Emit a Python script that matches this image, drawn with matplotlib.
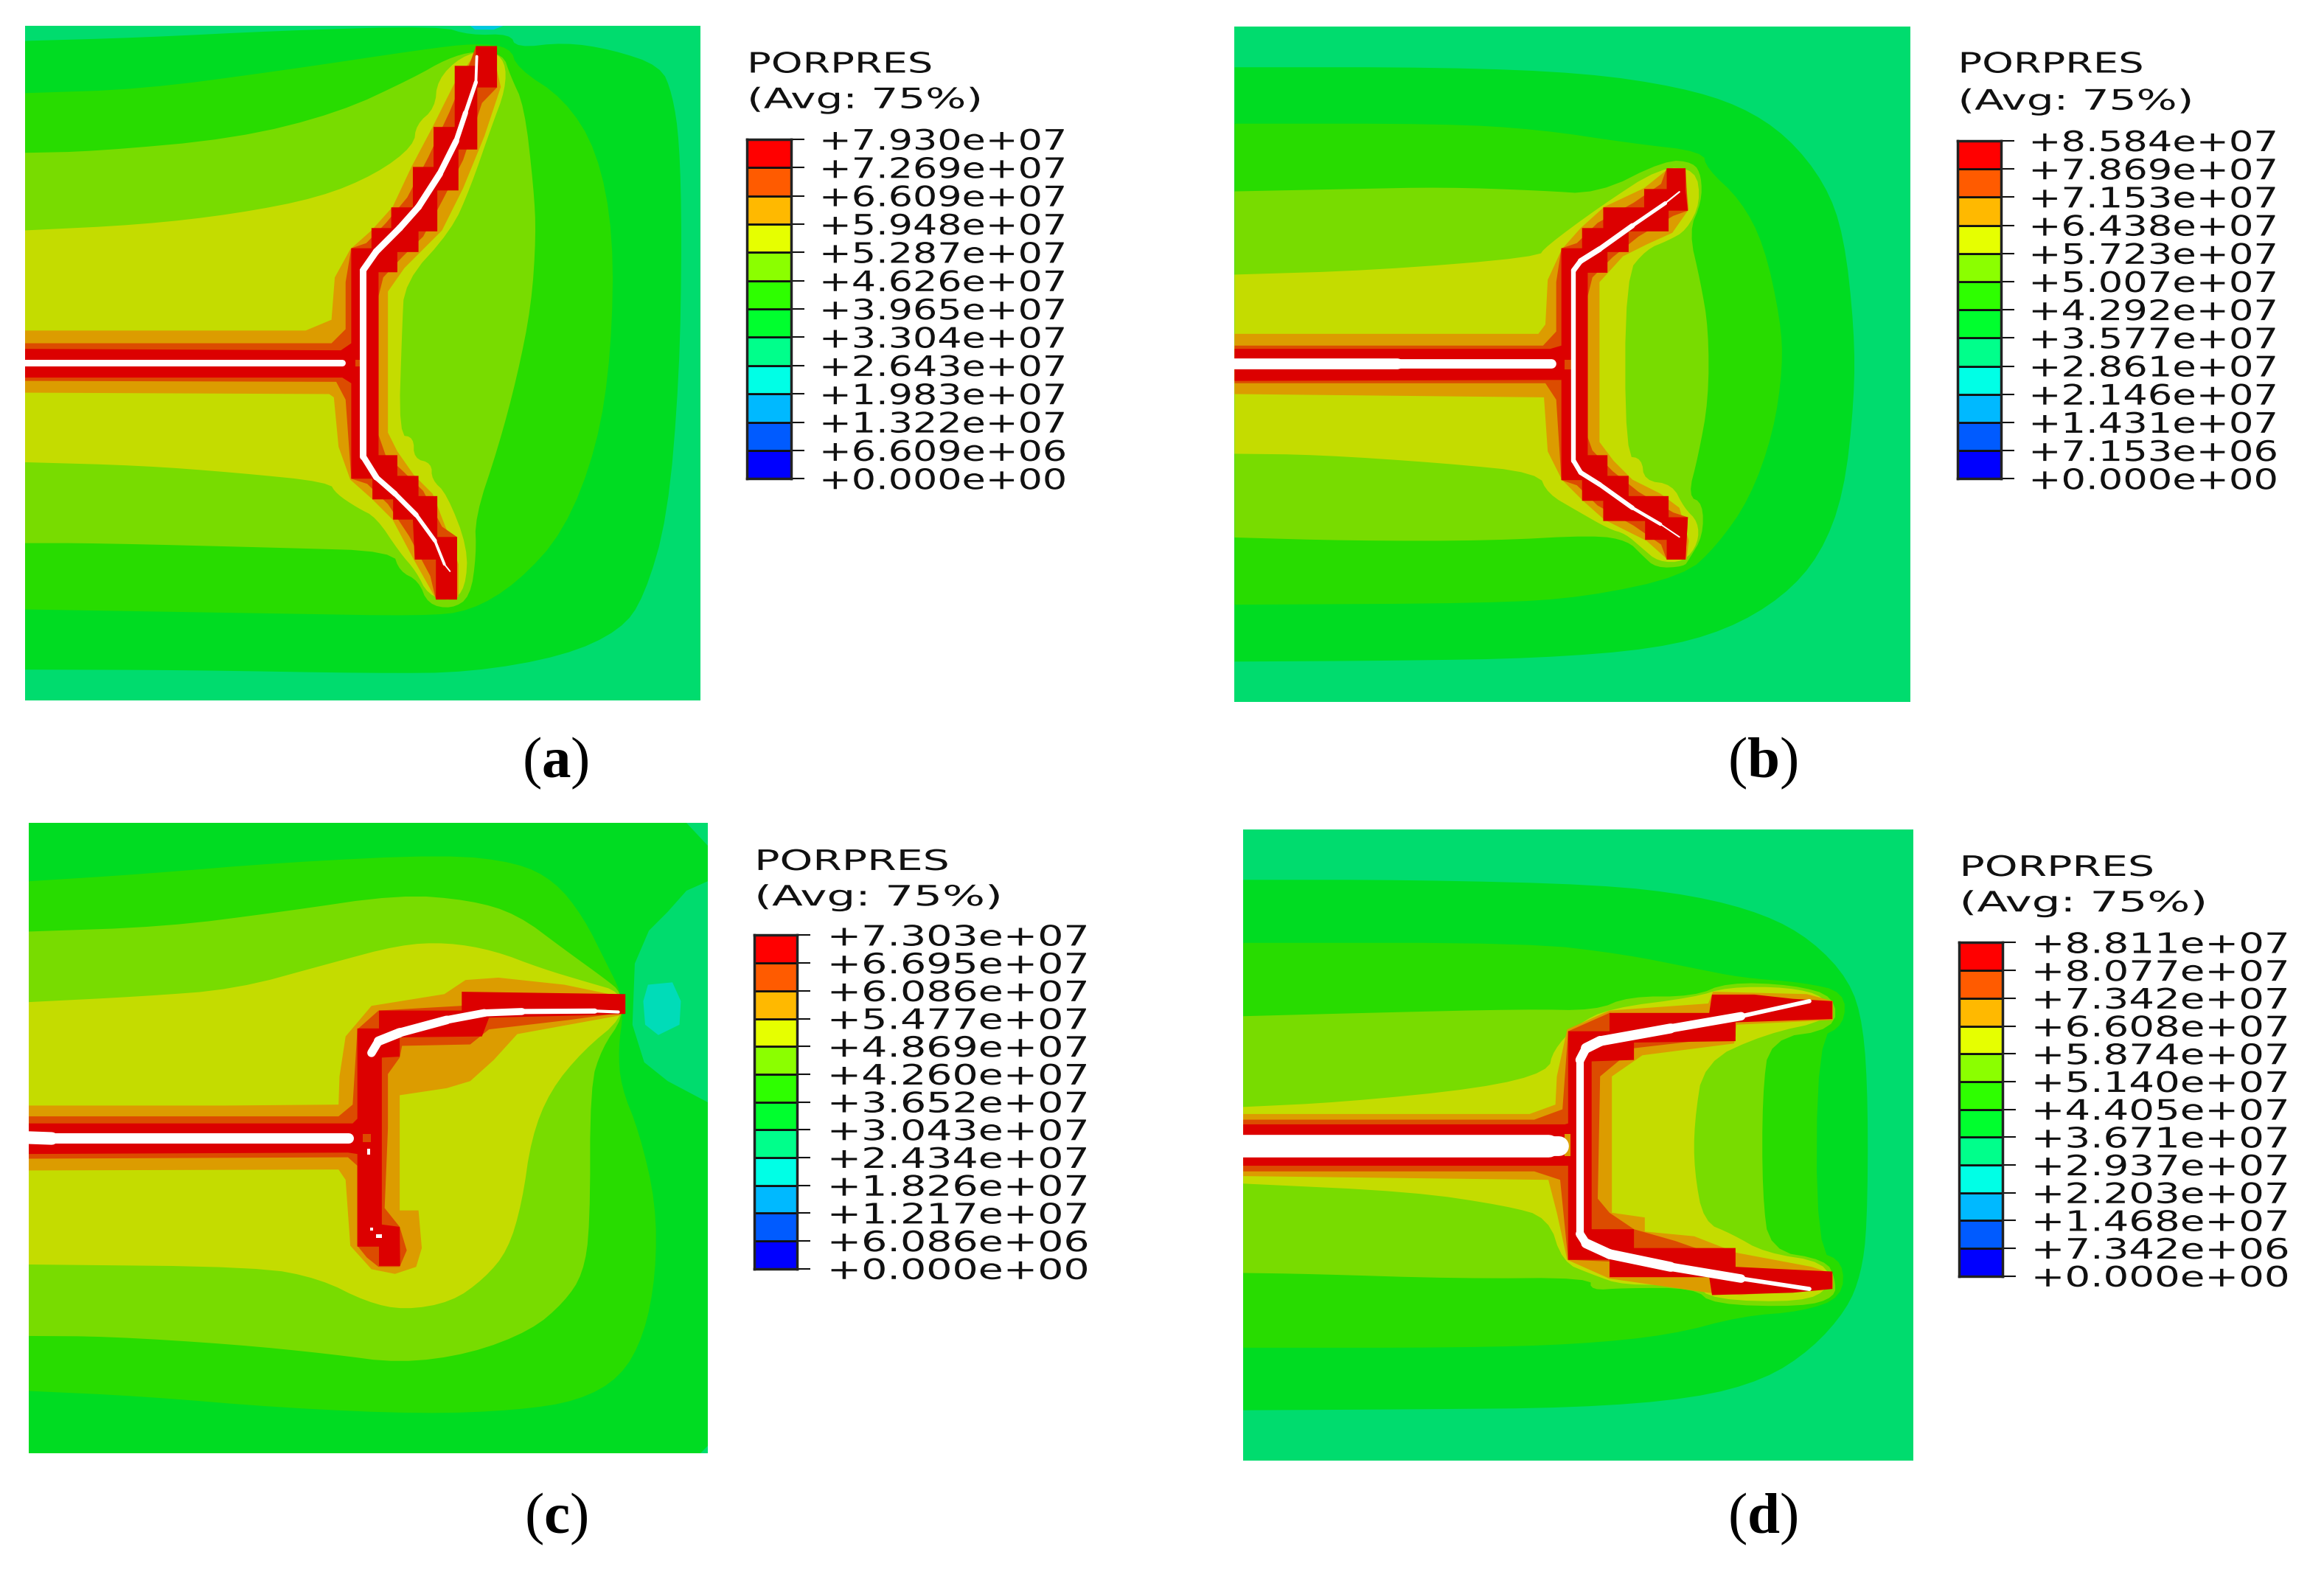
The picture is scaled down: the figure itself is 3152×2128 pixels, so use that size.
"""PORPRES contour panels (a)-(d) with Abaqus style legends."""
import matplotlib
matplotlib.use("Agg")
import matplotlib.pyplot as plt
from matplotlib.patheffects import AbstractPathEffect
from matplotlib.transforms import Affine2D
import numpy as np

plt.rcParams["font.family"] = ["DejaVu Sans"]
plt.rcParams["mathtext.fontset"] = "custom"
plt.rcParams["mathtext.rm"] = "Liberation Serif"
plt.rcParams["mathtext.bf"] = "Liberation Serif:bold"

W, H = 3152, 2128
ZOOM = 1.568  # outline units per picture pixel

# contour band colours as the plot shows them (shaded)
TEAL2 = "#00dcb8"
TEAL = "#00dc6e"
G1 = "#00dc22"
G2 = "#28dc00"
G3 = "#78dc00"
Y1 = "#c4dc00"
O1 = "#dc9c00"
O2 = "#dc4c00"
RED = "#dc0000"
# legend colours, lowest band first
legend_colors = ["#0000ff", "#005bff", "#00b9ff", "#00ffe6", "#00ff8b", "#00ff2e",
                 "#2eff00", "#8bff00", "#e6ff00", "#ffb900", "#ff5b00", "#ff0000"]

labels_a = ["+0.000e+00", "+6.609e+06", "+1.322e+07", "+1.983e+07", "+2.643e+07", "+3.304e+07", "+3.965e+07",
            "+4.626e+07", "+5.287e+07", "+5.948e+07", "+6.609e+07", "+7.269e+07", "+7.930e+07"]
labels_b = ["+0.000e+00", "+7.153e+06", "+1.431e+07", "+2.146e+07", "+2.861e+07", "+3.577e+07", "+4.292e+07",
            "+5.007e+07", "+5.723e+07", "+6.438e+07", "+7.153e+07", "+7.869e+07", "+8.584e+07"]
labels_c = ["+0.000e+00", "+6.086e+06", "+1.217e+07", "+1.826e+07", "+2.434e+07", "+3.043e+07", "+3.652e+07",
            "+4.260e+07", "+4.869e+07", "+5.477e+07", "+6.086e+07", "+6.695e+07", "+7.303e+07"]
labels_d = ["+0.000e+00", "+7.342e+06", "+1.468e+07", "+2.203e+07", "+2.937e+07", "+3.671e+07", "+4.405e+07",
            "+5.140e+07", "+5.874e+07", "+6.608e+07", "+7.342e+07", "+8.077e+07", "+8.811e+07"]

# ---- panel a outlines
a_tip = [(1000, 55), (1070, 55), (1050, 63), (1010, 63)]
a_g1 = [(53, 87), (300, 80), (600, 65), (935, 55), (1000, 75), (1085, 72), (1098, 102), (1200, 90), (1300, 105),
        (1405, 140), (1430, 200), (1445, 300), (1450, 500), (1445, 800), (1420, 1100), (1370, 1270), (1320, 1340),
        (1200, 1395), (1000, 1430), (800, 1432), (400, 1425), (53, 1424)]
a_g2 = [(53, 198), (300, 190), (600, 150), (900, 105), (1010, 92), (1085, 100), (1100, 145), (1200, 210),
        (1270, 320), (1305, 500), (1300, 750), (1270, 950), (1200, 1130), (1100, 1240), (1000, 1300), (900, 1310),
        (600, 1305), (53, 1296)]
a_g3 = [(53, 325), (200, 322), (500, 295), (720, 240), (880, 165), (950, 125), (1010, 108), (1070, 115),
        (1085, 160), (1115, 225), (1135, 400), (1140, 500), (1130, 650), (1100, 800), (1060, 950), (1010, 1100),
        (1013, 1180), (1000, 1270), (960, 1295), (910, 1285), (890, 1235), (850, 1215), (835, 1172), (600, 1165),
        (200, 1155), (53, 1155)]
a_y1 = [(53, 490), (300, 478), (500, 455), (680, 420), (800, 370), (880, 310), (885, 265), (925, 230), (930, 170),
        (980, 120), (1040, 105), (1075, 130), (1075, 190), (1045, 270), (1000, 400), (960, 490), (860, 600),
        (855, 700), (848, 925), (880, 930), (880, 975), (918, 985), (918, 1020), (950, 1050), (995, 1165),
        (990, 1250), (960, 1280), (910, 1265), (885, 1215), (850, 1175), (800, 1100), (760, 1080), (715, 1050),
        (700, 1025), (500, 1005), (300, 990), (53, 983)]
a_o1 = [(53, 703), (650, 703), (705, 680), (712, 590), (745, 530), (790, 490), (835, 440), (875, 355), (920, 270),
        (965, 180), (1010, 115), (1050, 120), (1065, 185), (1030, 290), (985, 400), (940, 490), (860, 570),
        (825, 620), (825, 920), (845, 960), (880, 1010), (920, 1050), (955, 1140), (975, 1200), (975, 1270),
        (925, 1270), (880, 1190), (835, 1105), (790, 1060), (745, 1020), (720, 950), (710, 845), (700, 838),
        (53, 835)]
a_o2 = [(53, 730), (705, 730), (735, 700), (735, 600), (747, 528), (779, 517), (821, 474), (866, 420), (911, 334),
        (956, 238), (1001, 130), (1012, 98), (1057, 186), (1025, 219), (985, 340), (941, 426), (900, 503),
        (856, 546), (815, 590), (805, 630), (805, 925), (820, 968), (856, 1001), (900, 1044), (940, 1120),
        (972, 1142), (972, 1275), (927, 1275), (915, 1225), (870, 1140), (825, 1072), (781, 1029), (747, 1018),
        (735, 850), (715, 812), (53, 810)]
a_red = [(53, 742), (725, 745), (747, 730), (747, 528), (790, 528), (790, 485), (832, 485), (832, 441), (878, 441),
         (878, 355), (922, 355), (922, 270), (967, 270), (967, 140), (1012, 140), (1012, 98), (1057, 98),
         (1057, 186), (1015, 186), (1015, 318), (975, 318), (975, 405), (930, 405), (930, 492), (890, 492),
         (890, 536), (845, 536), (845, 579), (805, 579), (805, 968), (845, 968), (845, 1012), (890, 1012),
         (890, 1055), (930, 1055), (930, 1142), (972, 1142), (972, 1275), (927, 1275), (927, 1190), (882, 1190),
         (878, 1105), (836, 1105), (836, 1062), (792, 1062), (792, 1018), (747, 1018), (747, 815), (728, 803),
         (53, 803)]
a_spot = [(755, 765), (768, 765), (768, 780), (755, 780)]
a_crack_main = [(50, 772, 15), (728, 772, 13)]
a_crack_branch = [(1014, 120, 5), (1012, 175, 7), (990, 240, 10), (970, 300, 12), (935, 370, 14), (890, 440, 14),
                  (850, 485, 14), (800, 535, 14), (772, 575, 14), (772, 970, 14), (800, 1015, 12), (840, 1050, 11),
                  (885, 1095, 10), (925, 1150, 7), (945, 1200, 5), (957, 1215, 1)]

# ---- panel b outlines
b_g1 = [(54, 143), (500, 143), (800, 155), (1000, 185), (1130, 225), (1230, 290), (1310, 390), (1350, 500),
        (1372, 700), (1372, 850), (1350, 1050), (1300, 1180), (1220, 1270), (1100, 1340), (950, 1380), (700, 1400),
        (400, 1405), (54, 1407)]
b_g2 = [(54, 263), (500, 263), (700, 275), (900, 305), (1050, 322), (1058, 358), (1130, 425), (1180, 520),
        (1215, 680), (1220, 780), (1200, 920), (1150, 1060), (1080, 1160), (1010, 1225), (800, 1270), (600, 1283),
        (54, 1286)]
b_g3 = [(54, 407), (300, 402), (500, 398), (700, 405), (825, 413), (970, 340), (1030, 345), (1047, 375), (1047, 430),
        (1020, 492), (1045, 600), (1062, 700), (1062, 850), (1040, 970), (1018, 1055), (1050, 1070), (1050, 1140),
        (1020, 1190), (1010, 1205), (950, 1208), (920, 1180), (890, 1150), (820, 1138), (600, 1150), (300, 1150),
        (54, 1143)]
b_y1 = [(54, 584), (350, 575), (700, 547), (715, 525), (830, 440), (960, 355), (1035, 360), (1045, 430), (1015, 490),
        (975, 512), (930, 530), (885, 585), (885, 970), (920, 975), (925, 1022), (985, 1030), (1010, 1080),
        (1040, 1110), (1040, 1155), (1010, 1195), (955, 1195), (920, 1165), (885, 1135), (850, 1125), (780, 1085),
        (720, 1050), (700, 1005), (500, 985), (230, 967), (54, 965)]
b_o1 = [(54, 710), (700, 710), (715, 690), (720, 595), (750, 530), (790, 485), (840, 440), (925, 400), (975, 360),
        (1015, 400), (1020, 445), (985, 495), (930, 520), (880, 545), (830, 600), (830, 940), (860, 980),
        (900, 1020), (960, 1050), (1000, 1080), (1020, 1150), (1015, 1190), (975, 1190), (930, 1150), (840, 1105),
        (795, 1065), (750, 1020), (720, 960), (712, 845), (54, 838)]
b_o2 = [(54, 735), (710, 735), (738, 705), (738, 600), (749, 528), (782, 517), (826, 474), (903, 431), (961, 391),
        (973, 358), (1013, 358), (1018, 448), (987, 459), (913, 503), (858, 547), (815, 590), (805, 630), (805, 930),
        (815, 958), (858, 1002), (913, 1046), (987, 1090), (1018, 1100), (1013, 1190), (973, 1190), (961, 1158),
        (903, 1118), (826, 1075), (782, 1032), (749, 1021), (738, 850), (715, 815), (54, 815)]
b_red = [(54, 742), (725, 742), (749, 735), (749, 528), (793, 528), (793, 485), (838, 485), (838, 441), (925, 441),
         (925, 402), (973, 402), (973, 358), (1013, 358), (1013, 405), (1018, 448), (977, 448), (977, 492),
         (892, 492), (892, 536), (847, 536), (847, 580), (805, 580), (805, 968), (847, 968), (847, 1012), (892, 1012),
         (892, 1055), (977, 1055), (977, 1100), (1018, 1100), (1013, 1190), (973, 1190), (973, 1148), (927, 1148),
         (927, 1108), (838, 1108), (838, 1065), (793, 1065), (793, 1021), (749, 1021), (749, 808), (725, 808),
         (54, 810)]
b_spot = [(755, 765), (770, 765), (770, 785), (755, 785)]
b_crack_main = [(50, 773, 24), (400, 773, 22), (727, 773, 18)]
b_crack_branch = [(1000, 408, 1), (970, 432, 6), (900, 480, 10), (830, 530, 12), (790, 555, 12), (775, 575, 10),
                  (775, 980, 10), (790, 1005, 10), (830, 1030, 10), (900, 1080, 9), (960, 1115, 5), (1000, 1142, 1)]

# ---- panel c outlines
c_corner = [(1460, 41), (1505, 41), (1505, 90)]
c_corner2 = [(1490, 1381), (1505, 1381), (1505, 1365)]
c_right = [(1505, 165), (1460, 185), (1420, 230), (1380, 270), (1350, 340), (1345, 470), (1370, 550), (1420, 590),
           (1505, 635)]
c_blob = [(1378, 385), (1430, 380), (1448, 420), (1445, 470), (1400, 492), (1372, 470), (1368, 420)]
c_g2 = [(61, 165), (300, 150), (600, 125), (950, 108), (1100, 125), (1180, 165), (1240, 240), (1290, 340),
        (1320, 400), (1325, 450), (1315, 520), (1320, 600), (1360, 700), (1395, 850), (1395, 1000), (1370, 1130),
        (1320, 1220), (1230, 1270), (1100, 1290), (900, 1298), (600, 1285), (300, 1260), (61, 1249)]
c_g3 = [(61, 272), (350, 262), (600, 230), (850, 193), (1000, 205), (1100, 235), (1200, 310), (1290, 375),
        (1320, 400), (1325, 455), (1280, 520), (1255, 600), (1255, 900), (1240, 1000), (1200, 1060), (1130, 1120),
        (1000, 1170), (850, 1190), (700, 1170), (500, 1150), (230, 1133), (61, 1132)]
c_y1 = [(61, 422), (300, 410), (500, 395), (700, 340), (850, 300), (950, 295), (1050, 312), (1150, 350), (1250, 380),
        (1320, 400), (1325, 455), (1240, 525), (1170, 610), (1130, 710), (1110, 850), (1080, 950), (1030, 1010),
        (960, 1060), (860, 1077), (780, 1060), (680, 1010), (550, 985), (61, 980)]
c_o1 = [(61, 642), (480, 642), (720, 640), (722, 580), (735, 495), (790, 430), (945, 405), (990, 375), (1060, 370),
        (1200, 385), (1320, 410), (1320, 450), (1100, 490), (1050, 545), (1000, 590), (950, 605), (850, 620),
        (850, 865), (890, 865), (897, 945), (885, 985), (840, 1000), (790, 990), (745, 940), (735, 800), (720, 778),
        (61, 780)]
c_o2 = [(61, 665), (720, 665), (750, 640), (760, 480), (805, 440), (980, 430), (1260, 405), (1320, 445), (1210, 460),
        (1040, 480), (1000, 512), (855, 515), (850, 540), (825, 575), (825, 690), (818, 860), (850, 900), (865, 950),
        (850, 985), (805, 985), (780, 965), (760, 940), (760, 770), (740, 752), (61, 755)]
c_red = [(61, 680), (750, 680), (760, 670), (760, 478), (806, 478), (806, 440), (982, 440), (982, 400), (1330, 405),
         (1330, 447), (1250, 450), (1040, 455), (1025, 495), (850, 497), (850, 538), (812, 540), (812, 895),
         (850, 900), (851, 983), (806, 983), (806, 942), (760, 942), (760, 745), (740, 742), (61, 745)]
c_spot = [(772, 702), (788, 702), (788, 720), (772, 720)]
c_crack_main = [(55, 710, 30), (110, 712, 24), (742, 712, 20)]
c_crack_branch = [(790, 530, 16), (805, 505, 20), (850, 487, 20), (950, 460, 17), (1030, 445, 16), (1110, 442, 14),
                  (1265, 441, 8), (1315, 443, 5)]
c_speck1 = [(781, 734), (787, 734), (787, 746), (781, 746)]
c_speck2 = [(787, 902), (794, 902), (794, 908), (787, 908)]
c_speck3 = [(800, 915), (812, 915), (812, 923), (800, 923)]

# ---- panel d outlines
d_g1 = [(41, 162), (400, 162), (800, 172), (1000, 195), (1150, 235), (1250, 290), (1330, 375), (1360, 470),
        (1370, 640), (1368, 900), (1355, 1000), (1325, 1075), (1250, 1160), (1150, 1225), (1000, 1265), (750, 1285),
        (400, 1288), (41, 1290)]
d_g2 = [(41, 296), (650, 296), (850, 320), (1000, 350), (1100, 370), (1230, 380), (1320, 400), (1320, 470),
        (1262, 500), (1260, 950), (1318, 975), (1315, 1050), (1230, 1080), (1100, 1090), (950, 1130), (750, 1150),
        (500, 1157), (41, 1157)]
d_g3 = [(41, 452), (300, 445), (640, 437), (790, 440), (860, 410), (1000, 410), (1070, 380), (1210, 385),
        (1300, 410), (1300, 480), (1160, 500), (1145, 620), (1145, 830), (1160, 950), (1280, 970), (1300, 1010),
        (1300, 1050), (1230, 1070), (1040, 1065), (1000, 1030), (850, 1030), (780, 1035), (780, 1008), (500, 1010),
        (180, 1000), (41, 998)]
d_y1 = [(41, 645), (250, 635), (550, 605), (690, 570), (700, 525), (750, 470), (820, 435), (1000, 412), (1070, 390),
        (1200, 390), (1280, 410), (1290, 460), (1150, 490), (1020, 550), (1000, 680), (1000, 780), (1020, 890),
        (1080, 915), (1150, 955), (1280, 975), (1290, 1030), (1230, 1060), (1040, 1055), (1000, 1020), (850, 1025),
        (780, 1000), (720, 975), (690, 880), (600, 855), (400, 825), (41, 808)]
d_o1 = [(41, 660), (650, 660), (705, 640), (708, 580), (730, 480), (820, 440), (1030, 425), (1040, 400), (1240, 405),
        (1295, 420), (1295, 460), (1090, 470), (1085, 510), (890, 535), (825, 580), (825, 870), (895, 880),
        (895, 910), (1000, 920), (1090, 955), (1250, 985), (1295, 1000), (1295, 1030), (1100, 1045), (1030, 1040),
        (820, 1010), (730, 970), (708, 870), (690, 800), (41, 792)]
d_o2 = [(41, 672), (660, 672), (720, 650), (732, 484), (820, 445), (1088, 465), (1088, 495), (872, 520), (800, 580),
        (795, 840), (820, 870), (872, 905), (960, 930), (1088, 975), (1088, 985), (732, 970), (715, 800), (660, 782),
        (41, 782)]
d_red = [(41, 682), (725, 682), (732, 680), (732, 484), (820, 484), (820, 445), (1032, 445), (1038, 406), (1128, 406),
         (1210, 415), (1294, 420), (1294, 458), (1088, 465), (1088, 505), (872, 508), (872, 545), (782, 548),
         (782, 905), (872, 905), (872, 945), (1088, 945), (1088, 985), (1294, 995), (1294, 1032), (1210, 1040),
         (1038, 1045), (1032, 1007), (820, 1007), (820, 970), (732, 970), (732, 770), (41, 770)]
d_spot = [(725, 702), (737, 702), (737, 750), (725, 750)]
d_crack_main = [(36, 727, 48), (690, 727, 48), (712, 727, 36)]
d_crack_branch = [(1245, 420, 2), (1100, 452, 16), (950, 478, 20), (800, 505, 22), (770, 520, 22), (757, 545, 16),
                  (757, 915, 16), (770, 935, 20), (820, 958, 22), (950, 985, 20), (1100, 1010, 16), (1245, 1032, 2)]


class Stretch(AbstractPathEffect):
    # legend lettering in the reference is much wider than any installed font
    def __init__(self, sx):
        super().__init__()
        self.sx = sx

    def draw_path(self, renderer, gc, tpath, affine, rgbFace=None):
        renderer.draw_path(gc, tpath, Affine2D().scale(self.sx, 1) + affine, rgbFace)


def corner_cut(outline, n=2):
    # round the polygon corners, the two ends stay on the panel edge
    p = np.array(outline, dtype=float)
    for _ in range(n):
        q = np.empty((2 * len(p) - 2, 2))
        q[0::2] = 0.75 * p[:-1] + 0.25 * p[1:]
        q[1::2] = 0.25 * p[:-1] + 0.75 * p[1:]
        p = np.vstack([p[0], q, p[-1]])
    return p


def fig_axes(fig, x0, y0, x1, y1):
    # rectangle given in picture pixels, y down
    return fig.add_axes([x0 / W, 1 - y1 / H, (x1 - x0) / W, (y1 - y0) / H])


def draw_panel(fig, origin, box, base, layers, cracks, specks=()):
    x0, x1, y0, y1 = box
    ax = fig_axes(fig, origin[0] + x0 / ZOOM, origin[1] + y0 / ZOOM, origin[0] + x1 / ZOOM, origin[1] + y1 / ZOOM)
    ax.set_xlim(x0, x1)
    ax.set_ylim(y1, y0)
    ax.axis("off")
    ax.add_patch(plt.Rectangle((x0, y0), x1 - x0, y1 - y0, color=base, lw=0))
    for color, outline in layers:
        pts = corner_cut(outline) if color in (G1, G2, G3, Y1) else np.array(outline)
        ax.fill(pts[:, 0], pts[:, 1], color=color, lw=0)
    for crack in cracks:
        c = np.array(crack)
        for i in range(len(c) - 1):
            lw = (c[i, 2] + c[i + 1, 2]) / 2 / ZOOM * 0.72
            ax.plot(c[i:i + 2, 0], c[i:i + 2, 1], color="white", lw=lw, solid_capstyle="round", clip_on=False)
    for speck in specks:
        pts = np.array(speck)
        ax.fill(pts[:, 0], pts[:, 1], color="white", lw=0)
    return ax


def draw_legend(fig, bx0, by0, bx1, by1, labels, head_y, avg_y, sx_lab, sx_head, sx_avg, pad):
    # legend coordinates are read in the 1568 wide view
    k = W / 1568
    ax = fig_axes(fig, bx0 * k, by0 * k, bx1 * k, by1 * k)
    ax.bar(np.zeros(12), np.ones(12), bottom=np.arange(12), width=1, color=legend_colors,
           edgecolor="#111111", linewidth=2)
    ax.set_xlim(-0.5, 0.5)
    ax.set_ylim(0, 12)
    ax.set_xticks([])
    ax.yaxis.tick_right()
    ax.set_yticks(np.arange(13))
    ax.set_yticklabels(labels, fontsize=27.5)
    ax.tick_params(axis="y", length=13, width=1.5, pad=pad, color="#111111", labelcolor="#111111")
    for lab in ax.get_yticklabels():
        lab.set_path_effects([Stretch(sx_lab)])
    for s in ax.spines.values():
        s.set_linewidth(2.5)
        s.set_color("#222222")
    t1 = fig.text(bx0 * k / W, 1 - head_y * k / H, "PORPRES", fontsize=27.5, va="center", ha="left", color="#111111")
    t2 = fig.text(bx0 * k / W, 1 - avg_y * k / H, "(Avg: 75%)", fontsize=27.5, va="center", ha="left", color="#111111")
    t1.set_path_effects([Stretch(sx_head)])
    t2.set_path_effects([Stretch(sx_avg)])


fig = plt.figure(figsize=(W / 100, H / 100), dpi=100)

draw_panel(fig, (0, 0), (53, 1489, 55, 1490), TEAL,
           [("#00c8e0", a_tip), (G1, a_g1), (G2, a_g2), (G3, a_g3), (Y1, a_y1), (O1, a_o1), (O2, a_o2),
            (RED, a_red), (O2, a_spot)],
           [a_crack_main, a_crack_branch])
draw_panel(fig, (1640, 0), (54, 1491, 56, 1493), TEAL,
           [(G1, b_g1), (G2, b_g2), (G3, b_g3), (Y1, b_y1), (O1, b_o1), (O2, b_o2), (RED, b_red), (O2, b_spot)],
           [b_crack_main, b_crack_branch])
draw_panel(fig, (0, 1090), (61, 1505, 41, 1381), G1,
           [(TEAL, c_corner), (TEAL, c_corner2), (TEAL, c_right), (TEAL2, c_blob), (G2, c_g2), (G3, c_g3),
            (Y1, c_y1), (O1, c_o1), (O2, c_o2), (RED, c_red), (O2, c_spot)],
           [c_crack_main, c_crack_branch], [c_speck1, c_speck2, c_speck3])
draw_panel(fig, (1660, 1090), (41, 1466, 55, 1397), TEAL,
           [(G1, d_g1), (G2, d_g2), (G3, d_g3), (Y1, d_y1), (O1, d_o1), (O2, d_o2), (RED, d_red), (O1, d_spot)],
           [d_crack_main, d_crack_branch])

draw_legend(fig, 504, 94, 534, 323, labels_a, 44, 68, 1.37, 1.42, 1.52, 14)
draw_legend(fig, 1321, 95, 1350, 323, labels_b, 44, 69, 1.38, 1.42, 1.52, 14)
draw_legend(fig, 509, 631, 538, 856, labels_c, 582, 606, 1.45, 1.49, 1.60, 16)
draw_legend(fig, 1322, 636, 1351, 861, labels_d, 586, 610, 1.43, 1.49, 1.60, 15)

for name, x, y in [("a", 375, 515), ("b", 1189, 515), ("c", 375, 1025), ("d", 1189, 1025)]:
    fig.text(x * W / 1568 / W, 1 - y * W / 1568 / H, r"($\mathbf{%s}$)" % name, fontsize=57,
             family="Liberation Serif", ha="center", va="center", color="black")

fig.savefig("out.png", dpi=100)
plt.close(fig)
